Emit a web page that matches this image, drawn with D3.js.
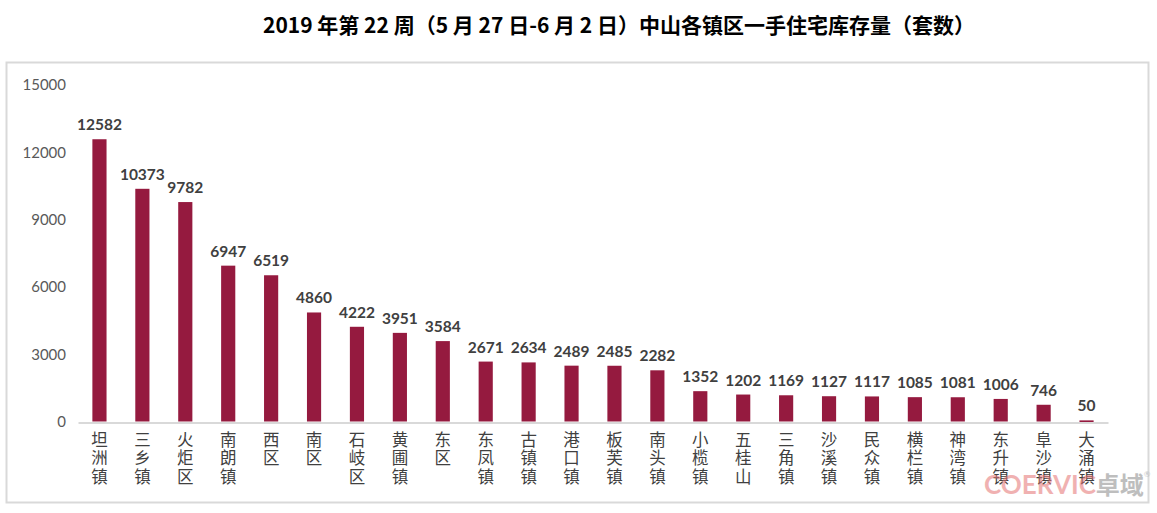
<!DOCTYPE html>
<html><head><meta charset="utf-8">
<script src="https://cdn.jsdelivr.net/npm/d3@7/dist/d3.min.js"></script>
<style>body{margin:0;background:#fff;}svg{display:block;}</style>
</head><body>
<script>
const categories = ["坦洲镇","三乡镇","火炬区","南朗镇","西区","南区","石岐区","黄圃镇","东区","东凤镇","古镇镇","港口镇","板芙镇","南头镇","小榄镇","五桂山","三角镇","沙溪镇","民众镇","横栏镇","神湾镇","东升镇","阜沙镇","大涌镇"];
const values = [12582,10373,9782,6947,6519,4860,4222,3951,3584,2671,2634,2489,2485,2282,1352,1202,1169,1127,1117,1085,1081,1006,746,50];
const yTicks = [0,3000,6000,9000,12000,15000];
const title = "2019 年第 22 周（5 月 27 日-6 月 2 日）中山各镇区一手住宅库存量（套数）";

const W = 1157, H = 513;
const svg = d3.select("body").append("svg").attr("width", W).attr("height", H);

svg.append("rect").attr("x",6.5).attr("y",62.5).attr("width",1142).attr("height",440)
  .attr("fill","#fff").attr("stroke","#d9d9d9").attr("stroke-width",2);

svg.append("text").attr("x",619).attr("y",33).attr("text-anchor","middle")
  .attr("font-family","'Noto Sans CJK SC', sans-serif").attr("font-weight","bold")
  .attr("font-size",21).attr("fill","#000").text(title);

const x = d3.scaleBand().domain(categories).range([78,1108]).paddingInner(0.67).paddingOuter(0.335);
const y = d3.scaleLinear().domain([0,15000]).range([421.5,85]);

// y axis labels
const yAxis = d3.axisLeft(y).tickValues(yTicks).tickFormat(d3.format("d")).tickSize(0).tickPadding(0);
const ya = svg.append("g").attr("transform","translate(66,0)").call(yAxis);
ya.select(".domain").remove();
ya.selectAll("text").attr("font-family","Lato, 'Open Sans', sans-serif").attr("font-size",15).attr("fill","#595959");

// bars
svg.selectAll("rect.bar").data(values).enter().append("rect").attr("class","bar")
  .attr("x",(d,i)=>x(categories[i])).attr("width",x.bandwidth())
  .attr("y",d=>y(d)).attr("height",d=>Math.max(y(0)-y(d),2)).attr("fill","#951a3f");

// baseline
const xAxis = d3.axisBottom(x).tickSize(0).tickFormat("");
const xa = svg.append("g").attr("transform",`translate(0,${y(0)+1})`).call(xAxis);
xa.select(".domain").attr("stroke","#d9d9d9").attr("stroke-width",2);

// value labels
svg.selectAll("text.val").data(values).enter().append("text").attr("class","val")
  .attr("x",(d,i)=>x(categories[i])+x.bandwidth()/2).attr("y",d=>y(d)-9)
  .attr("text-anchor","middle").attr("font-family","Lato, 'Open Sans', sans-serif")
  .attr("font-weight","bold").attr("font-size",15.5).attr("fill","#404040").text(d=>d);

// category labels vertical (one text element each, vertical writing mode)
svg.selectAll("text.cat").data(categories).enter().append("text").attr("class","cat")
  .attr("x",c=>x(c)+x.bandwidth()/2).attr("y",431)
  .style("writing-mode","vertical-rl").style("text-orientation","upright")
  .attr("letter-spacing",2)
  .attr("font-family","'Noto Sans CJK SC', sans-serif")
  .attr("font-size",16.5).attr("fill","#404040").text(c=>c);

// watermark
const wm = svg.append("text").attr("x",984).attr("y",494).attr("font-family","Lato, sans-serif")
  .attr("font-weight","bold").attr("font-size",26).attr("opacity",0.55);
wm.append("tspan").attr("fill","#e57373").text("COERVIC");
wm.append("tspan").attr("fill","#8a8a8a").attr("font-family","'Noto Sans CJK SC', sans-serif").attr("font-size",24).text("卓域");
wm.append("tspan").attr("fill","#999").attr("font-size",8).attr("font-weight","normal").attr("dy",-17).text("®");
</script>
</body></html>
